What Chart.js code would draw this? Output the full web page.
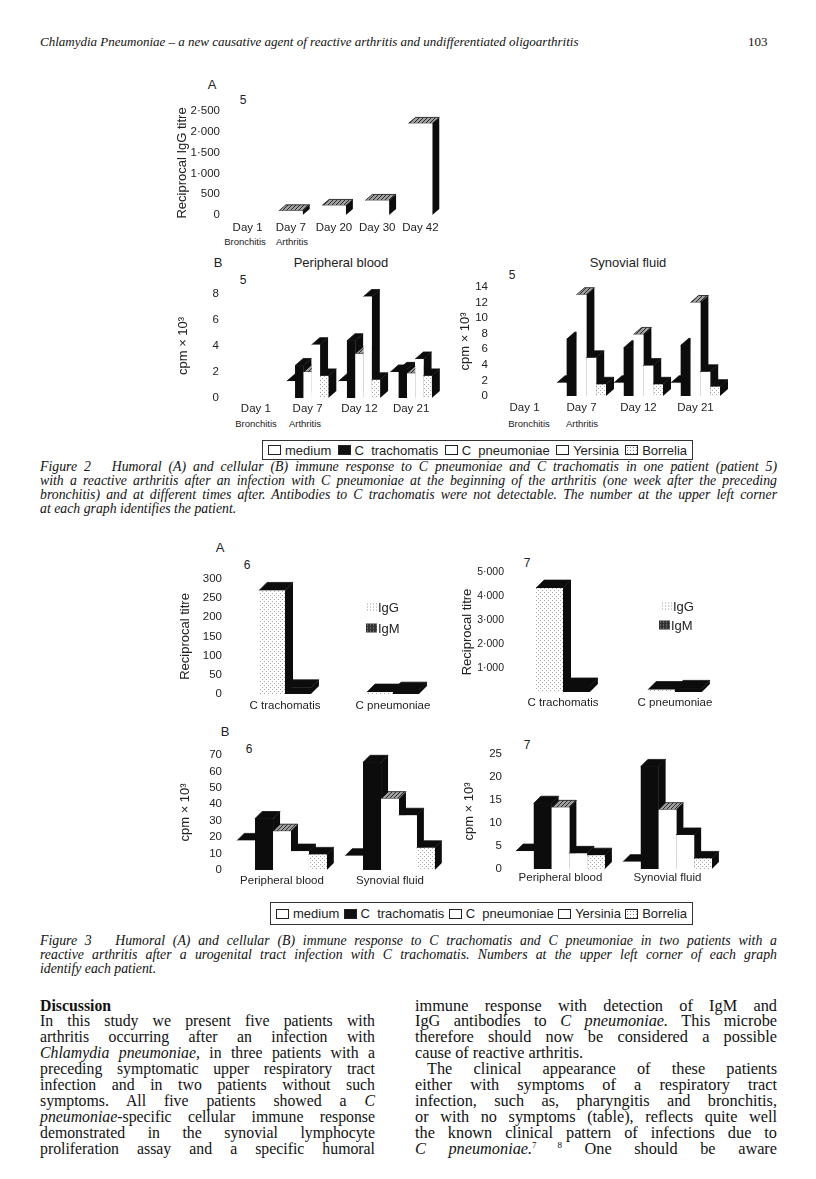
<!DOCTYPE html>
<html>
<head>
<meta charset="utf-8">
<title>Chlamydia pneumoniae - figures 2 and 3</title>
<script src="https://cdn.jsdelivr.net/npm/chart.js@4.4.0/dist/chart.umd.min.js"></script>
<style>
  body { margin: 0; width: 816px; height: 1179px; position: relative; background: #fff; color: #111; font-family: "Liberation Serif", "Times New Roman", serif; overflow: hidden; }
  canvas { position: absolute; }
  .t { position: absolute; transform: translate(-50%, -50%); white-space: nowrap; font-family: "Liberation Sans", Arial, sans-serif; font-size: 12px; color: #222; }
  .sub { font-size: 9.5px; }
  .line { position: absolute; white-space: nowrap; text-align: justify; text-align-last: justify; }
  .last { text-align-last: left; }
  .hdr { font-style: italic; font-size: 13px; line-height: 14px; }
  .cap { font-style: italic; font-size: 13.8px; line-height: 14px; left: 40px; width: 737px; }
  .txt { font-size: 15.8px; line-height: 16px; }
  .lcol { left: 40px; width: 335px; }
  .rcol { left: 415px; width: 362px; font-size: 16.3px; }
  .legend { position: absolute; border: 1px solid #333; display: flex; align-items: center; justify-content: space-between; padding: 0 5px; box-sizing: border-box; font-family: "Liberation Sans", Arial, sans-serif; font-size: 13px; color: #222; white-space: nowrap; }
  .legend span { display: flex; align-items: center; flex: none; }
  .sw { display: inline-block; width: 11px; height: 8px; border: 1px solid #222; margin-right: 4px; background: #fff; }
  .sw.black { background: #111; }
  .sw.dot { background-image: radial-gradient(#888 0.8px, transparent 0.9px); background-size: 3px 3px; }
  .inleg { position: absolute; font-family: "Liberation Sans", Arial, sans-serif; font-size: 13px; color: #222; display: flex; align-items: center; white-space: nowrap; transform: translateY(-50%); }
  .inleg i { display: inline-block; width: 11px; height: 9px; margin-right: 1px; }
  .sup { position: relative; top: -6px; font-size: 9px; }
</style>
</head>
<body>

<div class="line hdr" style="left:40px;top:35px;width:540px;text-align-last:left">Chlamydia Pneumoniae – a new causative agent of reactive arthritis and undifferentiated oligoarthritis</div>
<div class="line hdr" style="left:748px;top:35px;font-style:normal">103</div>

<!-- Figure 2 -->
<div class="t" style="left:212px;top:84px;font-size:13px">A</div>
<div class="t" style="left:243px;top:100px">5</div>
<div class="t sub" style="left:245px;top:241px">Bronchitis</div>
<div class="t sub" style="left:292px;top:241px">Arthritis</div>
<canvas id="fig2a"></canvas>

<div class="t" style="left:218px;top:262px;font-size:13px">B</div>
<div class="t" style="left:341px;top:262px;font-size:13px">Peripheral blood</div>
<div class="t" style="left:243px;top:280px">5</div>
<div class="t sub" style="left:256px;top:423px">Bronchitis</div>
<div class="t sub" style="left:305px;top:423px">Arthritis</div>
<canvas id="fig2pb"></canvas>

<div class="t" style="left:628px;top:262px;font-size:13px">Synovial fluid</div>
<div class="t" style="left:512px;top:275px">5</div>
<div class="t sub" style="left:529px;top:423px">Bronchitis</div>
<div class="t sub" style="left:582px;top:423px">Arthritis</div>
<canvas id="fig2sf"></canvas>

<div class="legend" style="left:262px;top:440px;width:431px;height:20px">
  <span><i class="sw"></i>medium</span>
  <span><i class="sw black"></i>C&nbsp; trachomatis</span>
  <span><i class="sw"></i>C&nbsp; pneumoniae</span>
  <span><i class="sw"></i>Yersinia</span>
  <span><i class="sw dot"></i>Borrelia</span>
</div>

<div class="line cap" style="top:460px">Figure 2&nbsp;&nbsp; Humoral (A) and cellular (B) immune response to C pneumoniae and C trachomatis in one patient (patient 5)</div>
<div class="line cap" style="top:474px">with a reactive arthritis after an infection with C pneumoniae at the beginning of the arthritis (one week after the preceding</div>
<div class="line cap" style="top:488px">bronchitis) and at different times after. Antibodies to C trachomatis were not detectable. The number at the upper left corner</div>
<div class="line cap last" style="top:502px">at each graph identifies the patient.</div>

<!-- Figure 3 -->
<div class="t" style="left:220px;top:547px;font-size:13px">A</div>
<div class="t" style="left:247px;top:565px">6</div>
<canvas id="fig3a6"></canvas>
<div class="inleg" style="left:366px;top:607px"><i style="background:#fff;background-image:radial-gradient(#999 0.8px,transparent 0.9px);background-size:3px 3px"></i>IgG</div>
<div class="inleg" style="left:366px;top:628px"><i style="background:#333;background-image:radial-gradient(#999 0.8px,transparent 0.9px);background-size:3px 3px"></i>IgM</div>

<div class="t" style="left:527px;top:563px">7</div>
<canvas id="fig3a7"></canvas>
<div class="inleg" style="left:661px;top:606px"><i style="background:#fff;background-image:radial-gradient(#999 0.8px,transparent 0.9px);background-size:3px 3px"></i>IgG</div>
<div class="inleg" style="left:659px;top:625px"><i style="background:#333;background-image:radial-gradient(#999 0.8px,transparent 0.9px);background-size:3px 3px"></i>IgM</div>

<div class="t" style="left:225px;top:731px;font-size:13px">B</div>
<div class="t" style="left:249px;top:749px">6</div>
<canvas id="fig3b6"></canvas>

<div class="t" style="left:527px;top:745px">7</div>
<canvas id="fig3b7"></canvas>

<div class="legend" style="left:270px;top:902px;width:423px;height:23px">
  <span><i class="sw"></i>medium</span>
  <span><i class="sw black"></i>C&nbsp; trachomatis</span>
  <span><i class="sw"></i>C&nbsp; pneumoniae</span>
  <span><i class="sw"></i>Yersinia</span>
  <span><i class="sw dot"></i>Borrelia</span>
</div>

<div class="line cap" style="top:934px">Figure 3&nbsp;&nbsp; Humoral (A) and cellular (B) immune response to C trachomatis and C pneumoniae in two patients with a</div>
<div class="line cap" style="top:948px">reactive arthritis after a urogenital tract infection with C trachomatis. Numbers at the upper left corner of each graph</div>
<div class="line cap last" style="top:962px">identify each patient.</div>

<!-- Discussion -->
<div class="line txt lcol last" style="top:998px;font-weight:bold">Discussion</div>
<div class="line txt lcol" style="top:1013px">In this study we present five patients with</div>
<div class="line txt lcol" style="top:1029px">arthritis occurring after an infection with</div>
<div class="line txt lcol" style="top:1045px"><i>Chlamydia pneumoniae,</i> in three patients with a</div>
<div class="line txt lcol" style="top:1061px">preceding symptomatic upper respiratory tract</div>
<div class="line txt lcol" style="top:1077px">infection and in two patients without such</div>
<div class="line txt lcol" style="top:1093px">symptoms. All five patients showed a <i>C</i></div>
<div class="line txt lcol" style="top:1109px"><i>pneumoniae</i>-specific cellular immune response</div>
<div class="line txt lcol" style="top:1125px">demonstrated in the synovial lymphocyte</div>
<div class="line txt lcol" style="top:1141px">proliferation assay and a specific humoral</div>

<div class="line txt rcol" style="top:998px">immune response with detection of IgM and</div>
<div class="line txt rcol" style="top:1013px">IgG antibodies to <i>C pneumoniae.</i> This microbe</div>
<div class="line txt rcol" style="top:1029px">therefore should now be considered a possible</div>
<div class="line txt rcol last" style="top:1045px">cause of reactive arthritis.</div>
<div class="line txt rcol" style="top:1061px;padding-left:12px;width:350px">The clinical appearance of these patients</div>
<div class="line txt rcol" style="top:1077px">either with symptoms of a respiratory tract</div>
<div class="line txt rcol" style="top:1093px">infection, such as, pharyngitis and bronchitis,</div>
<div class="line txt rcol" style="top:1109px">or with no symptoms (table), reflects quite well</div>
<div class="line txt rcol" style="top:1125px">the known clinical pattern of infections due to</div>
<div class="line txt rcol" style="top:1141px"><i>C pneumoniae.</i><span class="sup">7 8</span> One should be aware</div>

<script>
// Figure 2A: reciprocal IgG titre, patient 5
const days2A = ["Day 1", "Day 7", "Day 20", "Day 30", "Day 42"];
const iggTitre5 = [0, 100, 230, 350, 2200];

// Figure 2B: proliferation (cpm x 10^3), patient 5
const days2B = ["Day 1", "Day 7", "Day 12", "Day 21"];
const antigens = ["medium", "C trachomatis", "C pneumoniae", "Yersinia", "Borrelia"];
const pbMedium5 = [0, 1.3, 1.3, 2.0];
const pbCtrach5 = [0, 2.5, 4.4, 2.2];
const pbCpneu5 = [0, 2.0, 3.4, 1.9];
const pbYersinia5 = [0, 4.1, 7.8, 3.0];
const pbBorrelia5 = [0, 1.7, 1.4, 1.7];
const sfMedium5 = [0, 1.7, 1.7, 1.7];
const sfCtrach5 = [0, 7.3, 6.2, 6.5];
const sfCpneu5 = [0, 13.0, 7.9, 12.0];
const sfYersinia5 = [0, 4.9, 3.9, 3.1];
const sfBorrelia5 = [0, 1.5, 1.5, 1.2];

// Figure 3A: reciprocal titres, patients 6 and 7
const organisms = ["C trachomatis", "C pneumoniae"];
const igG6 = [270, 5];
const igM6 = [16, 10];
const igG7 = [4330, 100];
const igM7 = [250, 150];

// Figure 3B: proliferation (cpm x 10^3), patients 6 and 7
const sites = ["Peripheral blood", "Synovial fluid"];
const medium6 = [18, 8.7];
const ctrach6 = [31.3, 65.5];
const cpneu6 = [23.6, 43.4];
const yersinia6 = [11.5, 33.3];
const borrelia6 = [9.5, 13.5];
const medium7 = [3.9, 1.6];
const ctrach7 = [14.3, 22.3];
const cpneu7 = [13.4, 12.9];
const yersinia7 = [3.4, 7.4];
const borrelia7 = [3.0, 2.3];

function makePattern(kind) {
  const c = document.createElement("canvas");
  c.width = 4;
  c.height = 4;
  const g = c.getContext("2d");
  g.fillStyle = "#fff";
  g.fillRect(0, 0, 4, 4);
  if (kind === "dots") {
    g.fillStyle = "#a8a8a8";
    g.fillRect(0, 0, 1, 1);
    g.fillRect(2, 2, 1, 1);
  } else if (kind === "hatch") {
    g.fillStyle = "#a0a0a0";
    g.fillRect(0, 0, 4, 4);
    g.fillStyle = "#2a2a2a";
    g.fillRect(0, 3, 1, 1);
    g.fillRect(1, 2, 1, 1);
    g.fillRect(2, 1, 1, 1);
    g.fillRect(3, 0, 1, 1);
  }
  return g.createPattern(c, "repeat");
}
const dots = makePattern("dots");
const hatch = makePattern("hatch");

// redraw each bar as a block: black side, top face, then front
const bars3d = {
  id: "bars3d",
  afterDatasetsDraw(chart, args, opts) {
    const ctx = chart.ctx;
    const dx = opts.dx || 7, dy = opts.dy || 7;
    ctx.save();
    chart.data.labels.forEach((lab, j) => {
      chart.data.datasets.forEach((ds, i) => {
        if (!ds.data[j]) return;
        const bar = chart.getDatasetMeta(i).data[j];
        const l = bar.x - bar.width / 2, r = bar.x + bar.width / 2;
        const y = bar.y, b = bar.base;
        ctx.fillStyle = "#0c0c0c";
        ctx.beginPath();
        ctx.moveTo(r, y); ctx.lineTo(r + dx, y - dy); ctx.lineTo(r + dx, b - dy); ctx.lineTo(r, b);
        ctx.closePath(); ctx.fill();
        ctx.fillStyle = ds.topColor || "#0c0c0c";
        ctx.strokeStyle = "#111";
        ctx.lineWidth = 0.8;
        ctx.beginPath();
        ctx.moveTo(l, y); ctx.lineTo(l + dx, y - dy); ctx.lineTo(r + dx, y - dy); ctx.lineTo(r, y);
        ctx.closePath(); ctx.fill(); ctx.stroke();
        ctx.fillStyle = ds.backgroundColor;
        ctx.fillRect(l, y, r - l, b - y);
      });
    });
    ctx.restore();
  },
};

function fmtTick(v) {
  if (v >= 1000) return String(v).replace(/(\d)(\d{3})$/, "$1·$2");
  return String(v);
}

// box: canvas left/top plus chart area edges (page pixels)
function drawChart(id, box, labels, datasets, yMax, step, yTitle, extra) {
  const el = document.getElementById(id);
  const w = box.r + 12 - box.left;
  const h = box.b + 24 - box.top;
  el.width = w;
  el.height = h;
  el.style.left = box.left + "px";
  el.style.top = box.top + "px";
  return new Chart(el.getContext("2d"), {
    type: "bar",
    data: { labels: labels, datasets: datasets },
    options: {
      responsive: false,
      animation: false,
      layout: { padding: { top: box.t - box.top, right: 12, left: 0, bottom: 0 } },
      datasets: { bar: { barPercentage: 1, categoryPercentage: extra.cat } },
      plugins: {
        legend: { display: false },
        tooltip: { enabled: false },
        bars3d: { dx: extra.dx, dy: extra.dy },
      },
      scales: {
        x: {
          grid: { display: false, drawTicks: false },
          border: { display: false },
          ticks: { color: "#222", padding: extra.xPad || 4, autoSkip: false, maxRotation: 0, font: { family: "Liberation Sans", size: 11.5 } },
          afterFit: (s) => { s.height = 24; },
        },
        y: {
          min: 0,
          max: yMax,
          grid: { display: false, drawTicks: false },
          border: { display: false },
          ticks: {
            stepSize: step,
            autoSkip: false,
            color: "#222",
            padding: extra.yPad,
            font: { family: "Liberation Sans", size: extra.tickSize || 11.5 },
            callback: (v) => (extra.hideZero && v === 0 ? "" : fmtTick(v)),
          },
          title: { display: true, text: yTitle, color: "#222", padding: 0, font: { family: "Liberation Sans", size: 13 } },
          afterFit: (s) => { s.width = box.l - box.left; },
        },
      },
    },
    plugins: [bars3d],
  });
}

function cellSets(medium, ctrach, cpneu, yersinia, borrelia) {
  return [
    { label: antigens[0], data: medium, backgroundColor: "#fff", topColor: "#0c0c0c" },
    { label: antigens[1], data: ctrach, backgroundColor: "#0c0c0c", topColor: "#0c0c0c" },
    { label: antigens[2], data: cpneu, backgroundColor: "#fff", topColor: hatch },
    { label: antigens[3], data: yersinia, backgroundColor: "#fff", topColor: "#0c0c0c" },
    { label: antigens[4], data: borrelia, backgroundColor: dots, topColor: "#0c0c0c" },
  ];
}

drawChart("fig2a", { left: 175, top: 98, l: 226, t: 110, r: 442, b: 215 }, days2A,
  [{ label: "IgG", data: iggTitre5, backgroundColor: "#fff", topColor: hatch }],
  2500, 500, "Reciprocal IgG titre", { cat: 0.55, dx: 7, dy: 6, yPad: 6, xPad: 6 });

drawChart("fig2pb", { left: 176, top: 276, l: 230, t: 287.5, r: 437, b: 398 }, days2B,
  cellSets(pbMedium5, pbCtrach5, pbCpneu5, pbYersinia5, pbBorrelia5),
  8, 2, "cpm × 10³", { cat: 0.8, dx: 8, dy: 7, yPad: 11, xPad: 4 });

drawChart("fig2sf", { left: 458, top: 272, l: 496, t: 283.5, r: 724, b: 396.5 }, days2B,
  cellSets(sfMedium5, sfCtrach5, sfCpneu5, sfYersinia5, sfBorrelia5),
  14, 2, "cpm × 10³", { cat: 0.86, dx: 8, dy: 7, yPad: 8, xPad: 5 });

drawChart("fig3a6", { left: 178, top: 563, l: 231, t: 574.5, r: 447, b: 694 }, organisms,
  [
    { label: "IgG", data: igG6, backgroundColor: dots, topColor: "#0c0c0c" },
    { label: "IgM", data: igM6, backgroundColor: "#0c0c0c", topColor: "#0c0c0c" },
  ],
  300, 50, "Reciprocal titre", { cat: 0.48, dx: 8, dy: 8, yPad: 9, xPad: 5 });

drawChart("fig3a7", { left: 460, top: 560, l: 507, t: 572, r: 731, b: 692 }, organisms,
  [
    { label: "IgG", data: igG7, backgroundColor: dots, topColor: "#0c0c0c" },
    { label: "IgM", data: igM7, backgroundColor: "#0c0c0c", topColor: "#0c0c0c" },
  ],
  5000, 1000, "Reciprocal titre", { cat: 0.48, dx: 8, dy: 8, yPad: 3, xPad: 4, hideZero: true, tickSize: 10.5 });

drawChart("fig3b6", { left: 178, top: 742, l: 228, t: 754, r: 444, b: 870 }, sites,
  cellSets(medium6, ctrach6, cpneu6, yersinia6, borrelia6),
  70, 10, "cpm × 10³", { cat: 0.83, dx: 7, dy: 7, yPad: 6, xPad: 4 });

drawChart("fig3b7", { left: 462, top: 742, l: 507, t: 754, r: 721, b: 869 }, sites,
  cellSets(medium7, ctrach7, cpneu7, yersinia7, borrelia7),
  25, 5, "cpm × 10³", { cat: 0.83, dx: 7, dy: 7, yPad: 5, xPad: 2 });
</script>
</body>
</html>
